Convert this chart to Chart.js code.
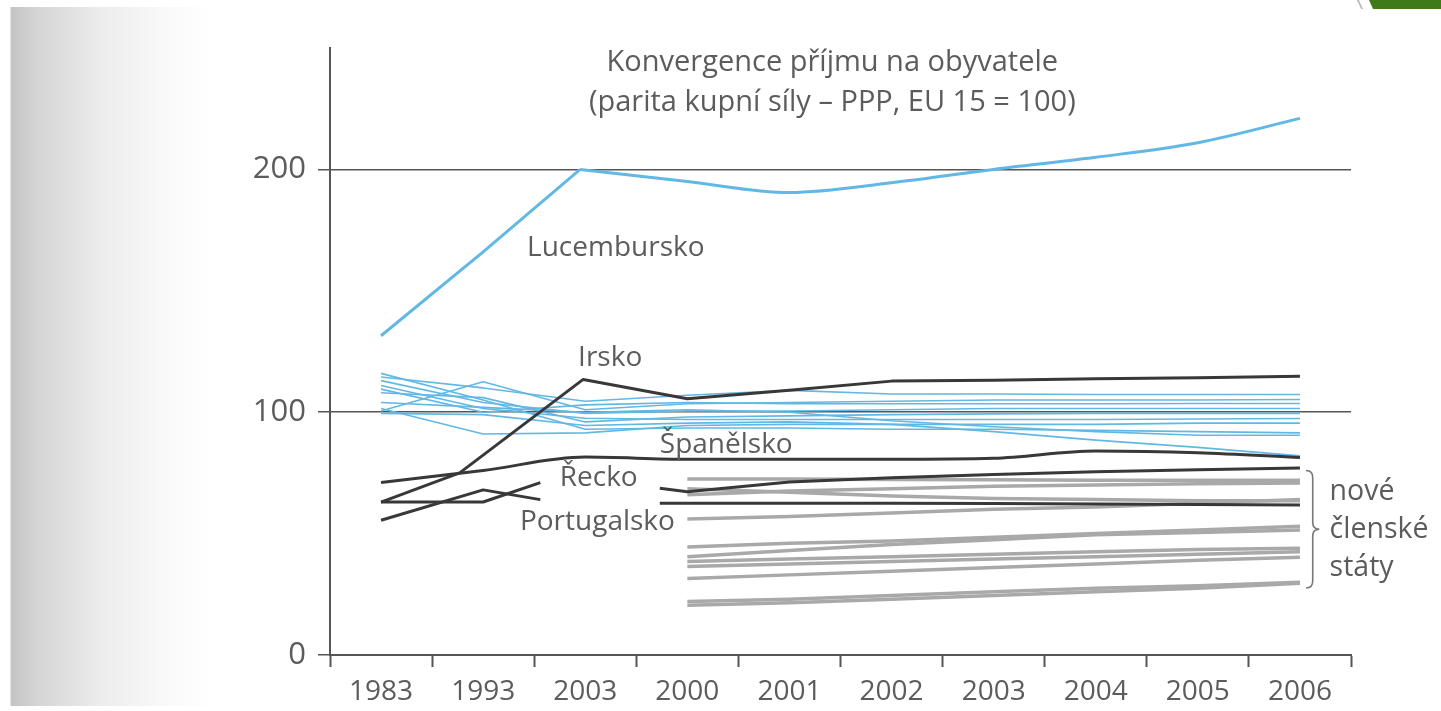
<!DOCTYPE html>
<html><head><meta charset="utf-8">
<style>
html,body{margin:0;padding:0;width:1441px;height:711px;overflow:hidden;}
body{background:
 linear-gradient(#fff,#fff) top left/100% 7px no-repeat,
 linear-gradient(#fff,#fff) bottom left/100% 5px no-repeat,
 linear-gradient(to right,#fff 0,#fff 10px,#c4c4c4 11px,#d6d6d6 40px,#ececec 100px,#f8f8f8 160px,#fff 215px);}
canvas{display:block;position:absolute;left:0;top:0}
#tab{position:absolute;right:0;top:0;width:72px;height:9px;background:#3e7a1a;clip-path:polygon(0 0,100% 0,100% 100%,4px 100%);}
#tabline{position:absolute;right:80px;top:0;width:2px;height:9px;background:#bbb;transform:skewX(25deg);}
</style>
<script src="https://cdn.jsdelivr.net/npm/chart.js@4/dist/chart.umd.min.js"></script>
</head><body>
<div id="tab"></div><div id="tabline"></div>
<canvas id="c" width="1441" height="711"></canvas>
<script>
// ---- categories / tick labels ----
const years = ['1983','1993','2003','2000','2001','2002','2003','2004','2005','2006'];
const yTickValues = [0, 100, 200];

// ---- x positions (category index units) ----
const fullX = [0,1,2,3,4,5,6,7,8,9];
const newX  = [3,4,5,6,7,8,9];
const luxEarlyX = [0,1,1.95];
const luxLateX  = [1.95,3,4,5,6,7,8,9];
const irlX  = [0,0.77,1.98,3,4,5,6,7,8,9];
const early3X = [0,1,1.56];
const lateX = [2.73,3,4,5,6,7,8,9];

// ---- series values ----
const lucemburskoA = [131.5,166,200];
const lucemburskoB = [200,195,190.5,194.5,200,205,211,221];
const irsko       = [63,75,113.5,105.5,109,112.8,113.2,113.8,114.2,114.8];
const spanelsko   = [71,76,81.5,80.6,80.6,80.6,81,84,83.3,81.3];
const reckoA      = [63,63,71];
const reckoB      = [68.7,67.2,71.3,73,74.3,75.5,76.3,77];
const portugalA   = [55.5,68,64];
const portugalB   = [62.5,62.5,62.5,62.5,62.4,62.2,62,61.8];

const old01 = [116,105,93,93.5,93.5,93,93,92.5,92,91.5];
const old02 = [100.5,112.5,101,103.5,104,104.5,105,105,105,105.2];
const old03 = [101.5,91,91.5,94.5,95,95,95,95,95.5,95.5];
const old04 = [114.5,110,104.5,107,109,107.5,107.5,107.3,107.3,107.3];
const old05 = [113,104,99.5,100.5,100.5,101,101.5,101.5,101.5,101.5];
const old06 = [111,101.5,97.5,97,97,97,97,97,97.2,97.4];
const old07 = [109.5,100,103,104,103.5,103.5,103.5,103.5,103.6,103.6];
const old08 = [108,106,96,98,98.5,99,99.3,99.5,99.5,99.5];
const old09 = [104,102,100,101,100,96.5,94,92,90.5,90.5];
const old10 = [99.5,99,94.5,95.5,96,95,92,88.5,85.5,82];

const new01 = [72.5,72.5,72.3,72.2,72,72,72];
const new02 = [68.5,67,65.5,64.5,64,63.5,63.5];
const new03 = [66,67.5,68.5,69.5,70,70.5,70.8];
const new04 = [56,57,58.5,60,61,62.5,64];
const new05 = [44.5,46,47,48.5,50,51.5,53];
const new06 = [40.5,43,45.5,47.5,49.5,50.5,51.5];
const new07 = [38.5,39.5,40.5,41.5,42.5,43.5,44];
const new08 = [36.5,37.5,38.5,39.5,40.5,41.5,42.5];
const new09 = [31.5,33,34.5,36,37.5,39,40.3];
const new10 = [22,23,24.5,26,27.5,28.5,30];
const new11 = [20.5,21.5,23,24.5,26,27.5,29.5];

// ---- annotation texts ----
const titleLines = ['Konvergence příjmu na obyvatele','(parita kupní síly – PPP, EU 15 = 100)'];
const seriesLabels = ['Lucembursko','Irsko','Španělsko','Řecko','Portugalsko'];
const seriesLabelX = [1.43,1.93,2.73,1.75,1.36];
const seriesLabelY = [167.5,122.2,86.4,72.8,54.7];
const groupLabel = ['nové','členské','státy'];

function pts(xs, ys){ return ys.map((v,i)=>({x:xs[i], y:v})); }

const BLACK = '#383838', BLUE = '#62b8e4', GRAY = '#a9a9a9';
const datasets = [];
function add(xs, ys, color, w, extra){ datasets.push(Object.assign({data:pts(xs,ys), borderColor:color, borderWidth:w, pointRadius:0, fill:false, tension:0, borderCapStyle:'butt', borderJoinStyle:'round'}, extra||{})); }

add(irlX, irsko, BLACK, 3);
add(fullX, spanelsko, BLACK, 3, {cubicInterpolationMode:'monotone'});
add(early3X, reckoA, BLACK, 3);
add(lateX, reckoB, BLACK, 3);
add(early3X, portugalA, BLACK, 3);
add(lateX, portugalB, BLACK, 3);
add(luxEarlyX, lucemburskoA, BLUE, 3);
add(luxLateX, lucemburskoB, BLUE, 3, {cubicInterpolationMode:'monotone'});
[old01,old02,old03,old04,old05,old06,old07,old08,old09,old10].forEach(s=>add(fullX, s, BLUE, 1.6));
[new01,new02,new03,new04,new05,new06,new07,new08,new09,new10,new11].forEach(s=>add(newX, s, GRAY, 3.5));

const TEXT = '#5c5c5c';
const annot = {
  id:'annot',
  afterDatasetsDraw(chart){
    const {ctx, scales:{x, y}} = chart;
    ctx.save();
    ctx.fillStyle = TEXT;
    ctx.textBaseline = 'middle';
    // title
    ctx.font = '29px "Open Sans"';
    ctx.textAlign = 'center';
    ctx.fillText(titleLines[0], x.getPixelForValue(4.42), y.getPixelForValue(244));
    ctx.fillText(titleLines[1], x.getPixelForValue(4.42), y.getPixelForValue(227.6));
    // series labels
    ctx.font = '28px "Open Sans"';
    ctx.textAlign = 'left';
    seriesLabels.forEach((t,i)=>ctx.fillText(t, x.getPixelForValue(seriesLabelX[i]), y.getPixelForValue(seriesLabelY[i])));
    // group label
    ctx.font = '28.5px "Open Sans"';
    const gy = [67.1, 51.4, 35.8];
    groupLabel.forEach((t,i)=>ctx.fillText(t, x.getPixelForValue(9.29), y.getPixelForValue(gy[i])));
    // brace
    const xl = x.getPixelForValue(9.06), xr = x.getPixelForValue(9.19), xm = (xl+xr)/2;
    const top = y.getPixelForValue(76), bot = y.getPixelForValue(27.6), mid = (top+bot)/2, r = 7;
    ctx.strokeStyle = '#777'; ctx.lineWidth = 1.6;
    ctx.beginPath();
    ctx.moveTo(xl, top);
    ctx.quadraticCurveTo(xm, top, xm, top+r);
    ctx.lineTo(xm, mid-r);
    ctx.quadraticCurveTo(xm, mid, xr, mid);
    ctx.quadraticCurveTo(xm, mid, xm, mid+r);
    ctx.lineTo(xm, bot-r);
    ctx.quadraticCurveTo(xm, bot, xl, bot);
    ctx.stroke();
    ctx.restore();
  }
};

new Chart(document.getElementById('c'), {
  type:'line',
  data:{datasets},
  options:{
    responsive:false, animation:false,
    font:{family:'"Open Sans", sans-serif'},
    layout:{padding:{top:48,right:90,left:0,bottom:0}},
    plugins:{legend:{display:false}, tooltip:{enabled:false}, title:{display:false}},
    scales:{
      x:{type:'linear', min:-0.5, max:9.5,
        afterBuildTicks:s=>{ const t=[]; for(let i=-1;i<=19;i++) t.push({value:i/2}); s.ticks=t; },
        ticks:{autoSkip:false, maxRotation:0, minRotation:0, color:TEXT, padding:8,
          font:{family:'"Open Sans", sans-serif', size:28},
          callback:(v)=> Number.isInteger(v) ? years[v] : ''},
        grid:{drawOnChartArea:false, tickLength:12, tickWidth:2,
          tickColor:(c)=> (c.tick && !Number.isInteger(c.tick.value)) ? '#555' : 'rgba(0,0,0,0)'},
        border:{color:'#555', width:2},
        afterFit:s=>{ s.height = 56; }
      },
      y:{min:0, max:250,
        afterBuildTicks:s=>{ s.ticks = yTickValues.map(v=>({value:v})); },
        ticks:{color:TEXT, padding:12, font:{family:'"Open Sans", sans-serif', size:31}},
        grid:{color:'#555', lineWidth:1.5, tickLength:12},
        border:{color:'#555', width:2},
        afterFit:s=>{ s.width = 330; }
      }
    }
  },
  plugins:[annot]
});
</script>
</body></html>
